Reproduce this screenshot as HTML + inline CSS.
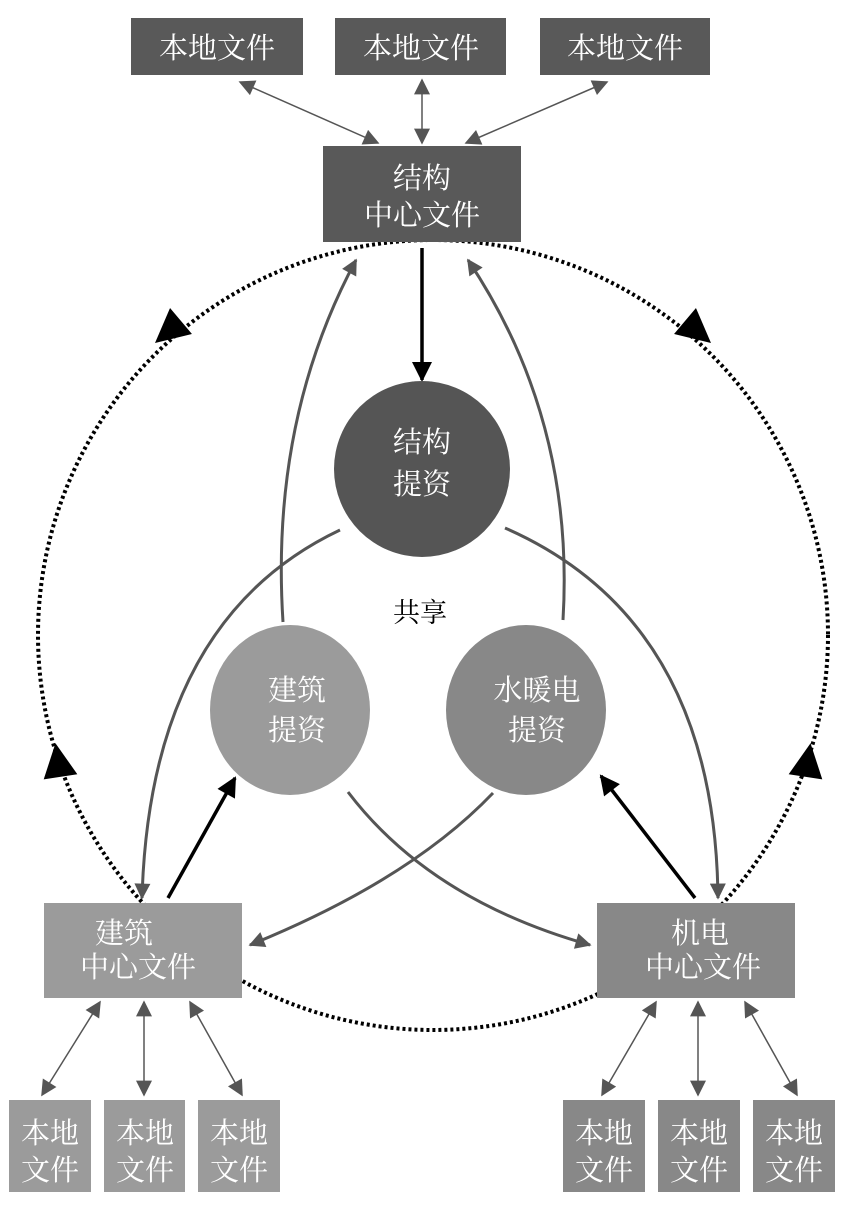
<!DOCTYPE html>
<html><head><meta charset="utf-8"><style>
html,body{margin:0;padding:0;background:#fff;}
svg{display:block;}
text{font-family:"Liberation Serif","Noto Serif CJK SC","Noto Sans CJK SC",serif;}
</style></head><body>
<svg width="850" height="1206" viewBox="0 0 850 1206" xmlns="http://www.w3.org/2000/svg">
<defs>
<marker id="ag" viewBox="0 0 10 10" refX="9" refY="5" markerWidth="7" markerHeight="6" orient="auto-start-reverse" markerUnits="userSpaceOnUse"><path d="M0,0 L10,5 L0,10 z" fill="#555"/></marker>
<marker id="agl" viewBox="0 0 10 10" refX="9" refY="5" markerWidth="22" markerHeight="16" orient="auto-start-reverse" markerUnits="userSpaceOnUse"><path d="M0,0 L10,5 L0,10 z" fill="#555"/></marker>
<marker id="ab" viewBox="0 0 10 10" refX="9" refY="5" markerWidth="26" markerHeight="20" orient="auto" markerUnits="userSpaceOnUse"><path d="M0,0 L10,5 L0,10 z" fill="#000"/></marker>
<marker id="abig" viewBox="0 0 10 10" refX="5" refY="5" markerWidth="40" markerHeight="34" orient="auto" markerUnits="userSpaceOnUse"><path d="M0,0 L10,5 L0,10 z" fill="#000"/></marker>
</defs>

<!-- dotted big circle -->
<circle cx="433" cy="635" r="395" fill="none" stroke="#000" stroke-width="4" stroke-dasharray="3,3"/>
<!-- dotted arrowheads -->
<path d="M200,305 L168,332" stroke="none" fill="none" marker-end="url(#abig)"/>
<path d="M666,305 L698,332" stroke="none" fill="none" marker-end="url(#abig)"/>
<path d="M64,800 L58,760" stroke="none" fill="none" marker-end="url(#abig)"/>
<path d="M802,800 L808,760" stroke="none" fill="none" marker-end="url(#abig)"/>

<!-- top local file links -->
<line x1="240" y1="82" x2="378" y2="143" stroke="#555" stroke-width="1.5" marker-start="url(#agl)" marker-end="url(#agl)"/>
<line x1="422" y1="80" x2="422" y2="143" stroke="#555" stroke-width="1.5" marker-start="url(#agl)" marker-end="url(#agl)"/>
<line x1="607" y1="82" x2="466" y2="143" stroke="#555" stroke-width="1.5" marker-start="url(#agl)" marker-end="url(#agl)"/>

<!-- bottom local file links -->
<line x1="100" y1="1002" x2="42" y2="1095" stroke="#555" stroke-width="1.5" marker-start="url(#agl)" marker-end="url(#agl)"/>
<line x1="144" y1="1002" x2="144" y2="1095" stroke="#555" stroke-width="1.5" marker-start="url(#agl)" marker-end="url(#agl)"/>
<line x1="190" y1="1002" x2="242" y2="1095" stroke="#555" stroke-width="1.5" marker-start="url(#agl)" marker-end="url(#agl)"/>
<line x1="656" y1="1002" x2="602" y2="1095" stroke="#555" stroke-width="1.5" marker-start="url(#agl)" marker-end="url(#agl)"/>
<line x1="698" y1="1002" x2="698" y2="1095" stroke="#555" stroke-width="1.5" marker-start="url(#agl)" marker-end="url(#agl)"/>
<line x1="745" y1="1002" x2="797" y2="1095" stroke="#555" stroke-width="1.5" marker-start="url(#agl)" marker-end="url(#agl)"/>

<!-- gray curves -->
<path d="M340,530 Q150,620 142,898" fill="none" stroke="#555" stroke-width="3" marker-end="url(#agl)"/>
<path d="M505,528 Q715,620 718,898" fill="none" stroke="#555" stroke-width="3" marker-end="url(#agl)"/>
<path d="M283,622 Q270,420 356,260" fill="none" stroke="#555" stroke-width="3" marker-end="url(#agl)"/>
<path d="M563,620 Q575,420 468,260" fill="none" stroke="#555" stroke-width="3" marker-end="url(#agl)"/>
<path d="M348,792 Q430,900 590,945" fill="none" stroke="#555" stroke-width="3" marker-end="url(#agl)"/>
<path d="M493,793 Q410,880 250,945" fill="none" stroke="#555" stroke-width="3" marker-end="url(#agl)"/>

<!-- black arrows -->
<line x1="422" y1="248" x2="422" y2="380" stroke="#000" stroke-width="3.5" marker-end="url(#ab)"/>
<line x1="168" y1="898" x2="235" y2="778" stroke="#000" stroke-width="3.5" marker-end="url(#ab)"/>
<line x1="695" y1="898" x2="601" y2="776" stroke="#000" stroke-width="3.5" marker-end="url(#ab)"/>

<!-- boxes -->
<g fill="#595959">
<rect x="131" y="18" width="172" height="57"/>
<rect x="335" y="18" width="171" height="57"/>
<rect x="540" y="18" width="170" height="57"/>
<rect x="323" y="146" width="198" height="96"/>
</g>
<rect x="44" y="903" width="198" height="95" fill="#9b9b9b"/>
<rect x="597" y="903" width="198" height="95" fill="#888"/>
<g fill="#9b9b9b">
<rect x="9" y="1100" width="82" height="92"/>
<rect x="104" y="1100" width="81" height="92"/>
<rect x="198" y="1100" width="82" height="92"/>
</g>
<g fill="#888">
<rect x="563" y="1100" width="82" height="92"/>
<rect x="658" y="1100" width="82" height="92"/>
<rect x="753" y="1100" width="82" height="92"/>
</g>

<!-- circles -->
<circle cx="422" cy="469" r="88" fill="#555"/>
<ellipse cx="290" cy="710" rx="80" ry="85" fill="#9b9b9b"/>
<ellipse cx="526" cy="710" rx="80" ry="85" fill="#888"/>

<!-- text -->
<g fill="#fff" font-size="29" text-anchor="middle">
<text x="217" y="58">本地文件</text>
<text x="421" y="58">本地文件</text>
<text x="625" y="58">本地文件</text>
<text x="422" y="188">结构</text>
<text x="422" y="225">中心文件</text>
<text x="422" y="452">结构</text>
<text x="422" y="494">提资</text>
<text x="297" y="700">建筑</text>
<text x="297" y="740">提资</text>
<text x="537" y="700">水暖电</text>
<text x="537" y="740">提资</text>
<text x="124" y="943">建筑</text>
<text x="138" y="977">中心文件</text>
<text x="700" y="943">机电</text>
<text x="703" y="977">中心文件</text>
<text x="50" y="1143">本地</text><text x="50" y="1180">文件</text>
<text x="145" y="1143">本地</text><text x="145" y="1180">文件</text>
<text x="239" y="1143">本地</text><text x="239" y="1180">文件</text>
<text x="604" y="1143">本地</text><text x="604" y="1180">文件</text>
<text x="699" y="1143">本地</text><text x="699" y="1180">文件</text>
<text x="794" y="1143">本地</text><text x="794" y="1180">文件</text>
</g>
<text x="420" y="622" font-size="27" text-anchor="middle" fill="#000">共享</text>
</svg>
</body></html>
